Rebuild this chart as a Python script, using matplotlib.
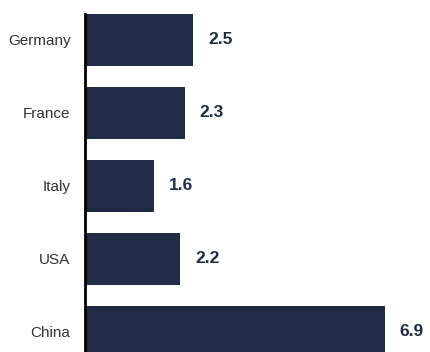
import numpy as np
from matplotlib import pyplot as plt

countries = ['Germany', 'France', 'Italy', 'USA', 'China']
values = [2.5, 2.3, 1.6, 2.2, 6.9]

navy = '#212b45'
plt.rcParams['font.family'] = ['Liberation Sans', 'DejaVu Sans']

fig = plt.figure(figsize=(4.3, 3.52), dpi=100)
ax = fig.add_axes([84.5 / 430, 0, 348 / 430, 1 - 14 / 352])

y = np.arange(len(countries))
ax.barh(y, values, height=0.71, color=navy)

for yi, v in zip(y, values):
    ax.text(v + 0.34, yi, f'{v:.1f}', va='center', ha='left',
            fontsize=12.5, fontweight='bold', color=navy)

ax.set_xlim(0, 8)
ax.set_ylim(4.274, -0.356)
ax.set_yticks(y)
ax.set_yticklabels(countries, fontsize=11, color='#333333')
ax.tick_params(axis='y', length=0, pad=10)
ax.set_xticks([])

for side in ['top', 'right', 'bottom']:
    ax.spines[side].set_visible(False)
ax.spines['left'].set_linewidth(2)
ax.spines['left'].set_color('black')

fig.savefig('out.png', dpi=100)
